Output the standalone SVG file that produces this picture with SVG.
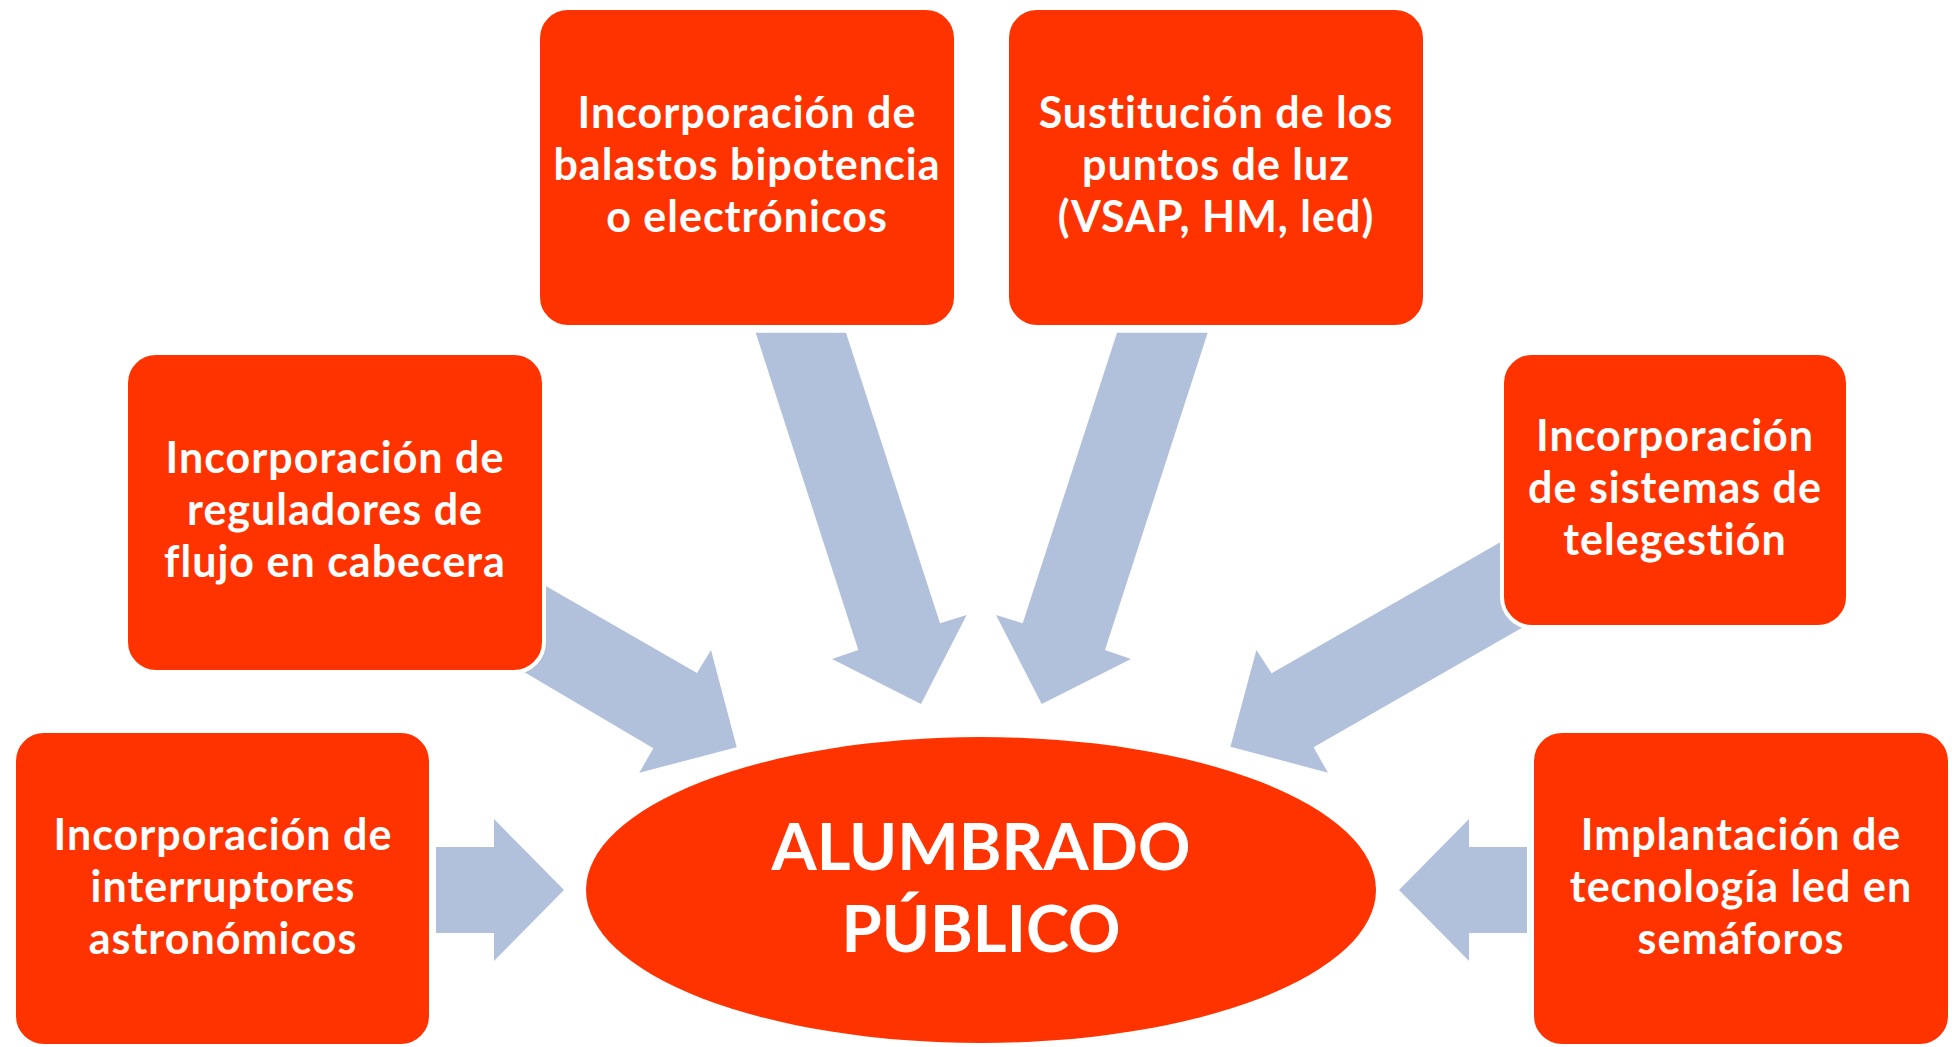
<svg xmlns="http://www.w3.org/2000/svg" width="1952" height="1047" viewBox="0 0 1952 1047">
<style>
.box{fill:#FF3300;stroke:#FFFFFF;stroke-width:4}
.arrow{fill:#B2C1DB}
.t{font-family:Lato,"Open Sans",sans-serif;font-weight:700;font-size:43px;letter-spacing:1px;fill:#FFFFFF;text-anchor:middle}
.big{font-family:Lato,"Open Sans",sans-serif;font-weight:700;font-size:65px;fill:#FFFFFF;text-anchor:middle}
</style>
<rect width="1952" height="1047" fill="#FFFFFF"/>
<g id="connectors">
<polygon class="arrow" points="755.7,332.7 846,332.7 940,623.3 966.7,615 921,704 832,659 858.3,650"/>
<polygon class="arrow" points="1117,332.7 1207.7,332.7 1105,650 1131,659 1041.7,704 996,615 1022.7,623.3"/>
<polygon class="arrow" points="490,554 697,673 711,650 736.7,747.3 639.3,772.7 653.3,748.3 490,652"/>
<polygon class="arrow" points="1560,508 1271.6,673.3 1256.4,650 1230.4,746.7 1328,772.7 1313.6,747.3 1560,606"/>
<polygon class="arrow" points="436,847 494,847 494,819 564,890 494,961 494,933 436,933"/>
<polygon class="arrow" points="1527,847 1469,847 1469,819 1399,890 1469,961 1469,933 1527,933"/>
</g>
<g id="balastos">
<rect class="box" x="538" y="8" width="418" height="319" rx="30"/>
<text class="t" x="747" y="128">Incorporación de</text>
<text class="t" x="747" y="180">balastos bipotencia</text>
<text class="t" x="747" y="232">o electrónicos</text>
</g>
<g id="sustitucion">
<rect class="box" x="1007" y="8" width="418" height="319" rx="30"/>
<text class="t" x="1216" y="128">Sustitución de los</text>
<text class="t" x="1216" y="180">puntos de luz</text>
<text class="t" x="1216" y="232">(VSAP, HM, led)</text>
</g>
<g id="reguladores">
<rect class="box" x="126" y="353" width="418" height="319" rx="30"/>
<text class="t" x="335" y="473">Incorporación de</text>
<text class="t" x="335" y="525">reguladores de</text>
<text class="t" x="335" y="577">flujo en cabecera</text>
</g>
<g id="telegestion">
<rect class="box" x="1502" y="353" width="346" height="274" rx="30"/>
<text class="t" x="1675" y="451">Incorporación</text>
<text class="t" x="1675" y="503">de sistemas de</text>
<text class="t" x="1675" y="555">telegestión</text>
</g>
<g id="interruptores">
<rect class="box" x="14" y="731" width="417" height="315" rx="30"/>
<text class="t" x="223" y="850">Incorporación de</text>
<text class="t" x="223" y="902">interruptores</text>
<text class="t" x="223" y="954">astronómicos</text>
</g>
<g id="semaforos">
<rect class="box" x="1532" y="731" width="418" height="315" rx="30"/>
<text class="t" x="1741" y="850">Implantación de</text>
<text class="t" x="1741" y="902">tecnología led en</text>
<text class="t" x="1741" y="954">semáforos</text>
</g>
<g id="alumbrado">
<ellipse cx="981" cy="890" rx="395" ry="153" fill="#FF3300"/>
<text class="big" x="981" y="870">ALUMBRADO</text>
<text class="big" x="981" y="952">PÚBLICO</text>
</g>
</svg>
